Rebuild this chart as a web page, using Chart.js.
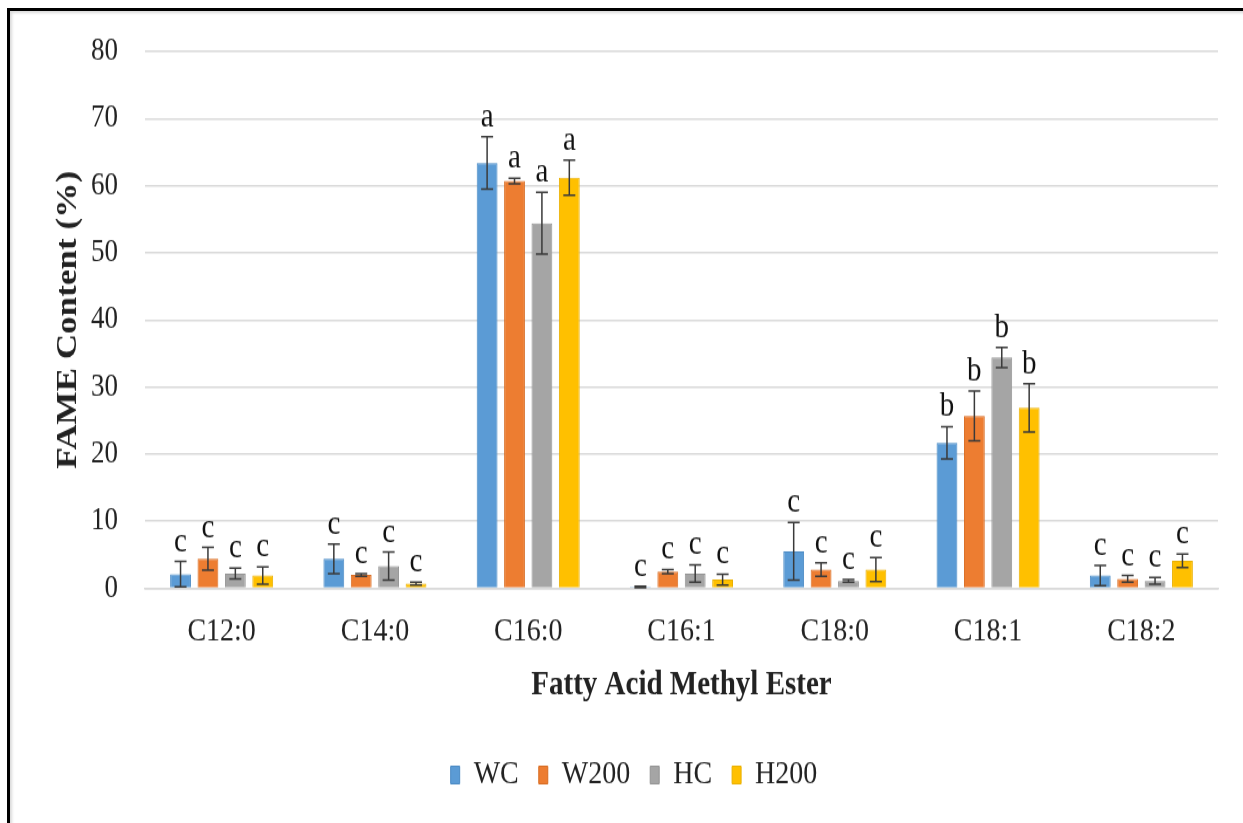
<!DOCTYPE html>
<html>
<head>
<meta charset="utf-8">
<script src="https://cdn.jsdelivr.net/npm/chart.js@4.4.0/dist/chart.umd.min.js"></script>
<style>
  html, body { margin: 0; padding: 0; background: #fff; overflow: hidden; }
  #wrap { position: absolute; left: 0; top: 0; width: 1243px; height: 823px; overflow: hidden; }
  #chart { position: absolute; left: 0; top: 0; transform-origin: 0 0; transform: scaleY(1.1707); }
  #frame { position: absolute; left: 7px; top: 8px; width: 1260px; height: 840px; border-left: 3px solid #000; border-top: 3px solid #000; box-shadow: inset 2px 2px 3px rgba(0,0,0,0.15); pointer-events: none; }
</style>
</head>
<body>
<div id="wrap">
  <canvas id="chart" width="1243" height="703"></canvas>
  <div id="frame"></div>
</div>
<script>
// fatty acid classes on the x axis
const categories = ["C12:0", "C14:0", "C16:0", "C16:1", "C18:0", "C18:1", "C18:2"];
// significance letters (same for each treatment in a group)
const letters = ["c", "c", "a", "c", "c", "b", "c"];
const yTicks = [0, 10, 20, 30, 40, 50, 60, 70, 80];

// FAME content (%) per treatment, and error bars
const wc = [2.1, 4.4, 63.4, 0.2, 5.5, 21.7, 1.9];
const wcErr = [1.9, 2.2, 3.9, 0.1, 4.3, 2.4, 1.5];
const w200 = [4.4, 2.0, 60.7, 2.5, 2.8, 25.7, 1.4];
const w200Err = [1.7, 0.2, 0.4, 0.3, 1.0, 3.7, 0.5];
const hc = [2.2, 3.3, 54.4, 2.2, 1.1, 34.4, 1.1];
const hcErr = [0.8, 2.1, 4.6, 1.3, 0.2, 1.5, 0.5];
const h200 = [1.9, 0.7, 61.2, 1.3, 2.8, 26.9, 4.1];
const h200Err = [1.3, 0.2, 2.6, 0.8, 1.8, 3.6, 1.0];

const serif = '"Liberation Serif", "Times New Roman", serif';
Chart.defaults.font.family = serif;
Chart.defaults.color = "#222";

// error bars + letters on top of each bar
const errorBarsAndLetters = {
    id: "errorBarsAndLetters",
    afterDatasetsDraw(chart) {
        const ctx = chart.ctx;
        const yScale = chart.scales.y;
        chart.data.datasets.forEach(function(ds, i) {
            const meta = chart.getDatasetMeta(i);
            meta.data.forEach(function(bar, j) {
                const v = ds.data[j], e = ds.errors[j];
                const top = yScale.getPixelForValue(v + e);
                const bot = yScale.getPixelForValue(Math.max(v - e, 0));
                ctx.save();
                ctx.strokeStyle = "#3a3a3a";
                ctx.lineWidth = 1.5;
                ctx.beginPath();
                ctx.moveTo(bar.x, top); ctx.lineTo(bar.x, bot);
                ctx.moveTo(bar.x - 6, top); ctx.lineTo(bar.x + 6, top);
                ctx.moveTo(bar.x - 6, bot); ctx.lineTo(bar.x + 6, bot);
                ctx.stroke();
                ctx.fillStyle = "#111";
                ctx.font = "29px " + serif;
                ctx.textAlign = "center";
                ctx.textBaseline = "alphabetic";
                ctx.fillText(letters[j], bar.x, top - 9);
                ctx.restore();
            });
        });
    }
};

new Chart("chart", {
    type: "bar",
    data: {
        labels: categories,
        datasets: [
            { label: "WC", data: wc, errors: wcErr, backgroundColor: "#5b9bd5", borderColor: "#4a8ac4", borderWidth: 1 },
            { label: "W200", data: w200, errors: w200Err, backgroundColor: "#ed7d31", borderColor: "#d86c22", borderWidth: 1 },
            { label: "HC", data: hc, errors: hcErr, backgroundColor: "#a5a5a5", borderColor: "#949494", borderWidth: 1 },
            { label: "H200", data: h200, errors: h200Err, backgroundColor: "#ffc000", borderColor: "#eab000", borderWidth: 1 }
        ]
    },
    options: {
        responsive: false,
        animation: false,
        categoryPercentage: 0.715,
        barPercentage: 0.76,
        layout: { padding: { top: 44, left: 50, right: 25, bottom: 17 } },
        plugins: {
            tooltip: { enabled: false },
            legend: {
                position: "bottom",
                labels: {
                    boxWidth: 9,
                    boxHeight: 15,
                    padding: 20,
                    color: "#222",
                    font: { size: 28, family: serif }
                }
            }
        },
        scales: {
            x: {
                grid: { display: false },
                border: { display: true, color: "#d9d9d9", width: 1.5 },
                ticks: { padding: 12.5, color: "#222", font: { size: 28 } },
                title: {
                    display: true,
                    text: "Fatty Acid Methyl Ester",
                    color: "#222",
                    padding: { top: 0, bottom: 25 },
                    font: { size: 29, weight: "bold" }
                },
                afterFit: function(scale) { scale.height = 125.5; }
            },
            y: {
                min: 0,
                max: 80,
                afterBuildTicks: function(scale) {
                    scale.ticks = yTicks.map(function(v) { return { value: v }; });
                },
                grid: { color: "#d9d9d9", lineWidth: 1.5, drawTicks: false },
                border: { display: false },
                ticks: { padding: 27, color: "#222", font: { size: 27 } },
                title: {
                    display: true,
                    text: "FAME Content (%)",
                    color: "#222",
                    padding: { top: 0, bottom: 0 },
                    font: { size: 30, weight: "bold" }
                },
                afterFit: function(scale) { scale.width = 95; }
            }
        }
    },
    plugins: [errorBarsAndLetters]
});
</script>
</body>
</html>
